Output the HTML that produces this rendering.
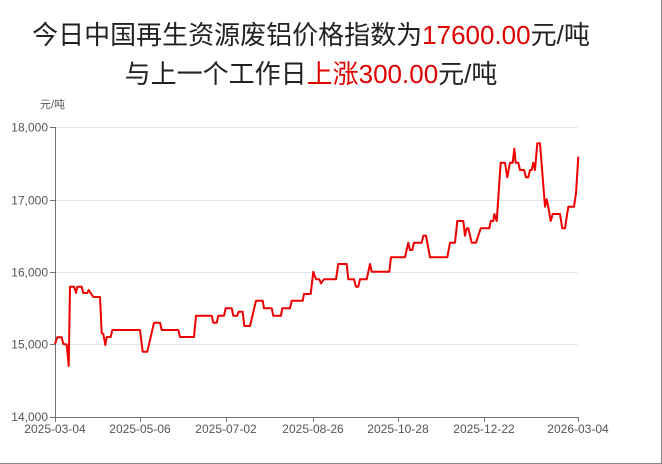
<!DOCTYPE html>
<html><head><meta charset="utf-8"><style>
html,body{margin:0;padding:0;background:#fff;}
body{width:662px;height:464px;position:relative;overflow:hidden;font-family:"Liberation Sans","Noto Sans CJK SC",sans-serif;}
.t{position:absolute;left:0;width:622px;text-align:center;font-size:26px;color:#222;white-space:nowrap;}
.r{color:#e00000;}
</style></head><body>
<div class="t" style="top:15px;">今日中国再生资源废铝价格指数为<span class="r">17600.00</span>元/吨</div>
<div class="t" style="top:54px;">与上一个工作日<span class="r">上涨300.00</span>元/吨</div>
<svg width="662" height="464" style="position:absolute;left:0;top:0" font-family="Liberation Sans, Noto Sans CJK SC, sans-serif">
<g stroke="#e0e6f1" stroke-width="1">
<line x1="55" x2="578" y1="127.5" y2="127.5"/>
<line x1="55" x2="578" y1="200.5" y2="200.5"/>
<line x1="55" x2="578" y1="272.5" y2="272.5"/>
<line x1="55" x2="578" y1="344.5" y2="344.5"/>
</g>
<g stroke="#6e7079" stroke-width="1">
<line x1="55.5" x2="55.5" y1="127" y2="417"/>
<line x1="55" x2="579" y1="417.5" y2="417.5"/>
<line x1="50" x2="55" y1="127.5" y2="127.5"/>
<line x1="50" x2="55" y1="200.5" y2="200.5"/>
<line x1="50" x2="55" y1="272.5" y2="272.5"/>
<line x1="50" x2="55" y1="344.5" y2="344.5"/>
<line x1="50" x2="55" y1="417.5" y2="417.5"/>
<line x1="55.5" x2="55.5" y1="417" y2="422"/>
<line x1="140.5" x2="140.5" y1="417" y2="422"/>
<line x1="226.5" x2="226.5" y1="417" y2="422"/>
<line x1="313.5" x2="313.5" y1="417" y2="422"/>
<line x1="398.5" x2="398.5" y1="417" y2="422"/>
<line x1="484.5" x2="484.5" y1="417" y2="422"/>
<line x1="578.5" x2="578.5" y1="417" y2="422"/>
</g>
<g font-size="12" fill="#555" text-anchor="end">
<text x="48" y="131.5">18,000</text>
<text x="48" y="204.5">17,000</text>
<text x="48" y="276.5">16,000</text>
<text x="48" y="348.5">15,000</text>
<text x="48" y="421">14,000</text>
</g>
<text x="40" y="108" font-size="11" fill="#555">元/吨</text>
<g font-size="12" fill="#555" text-anchor="middle">
<text x="55" y="433">2025-03-04</text>
<text x="140" y="433">2025-05-06</text>
<text x="226" y="433">2025-07-02</text>
<text x="313" y="433">2025-08-26</text>
<text x="398" y="433">2025-10-28</text>
<text x="484" y="433">2025-12-22</text>
<text x="578" y="433">2026-03-04</text>
</g>
<polyline fill="none" stroke="#ee0000" stroke-width="2" stroke-linejoin="round" points="55,344 57.3,337.3 61.7,337.3 63.3,344 66.7,344.5 68.7,366 70,286.7 74,286.7 76,293 77.3,286.7 81.7,286.7 83.3,293 87.3,293 88.7,290 90.7,293 93.3,297 100,297 101.7,333 103.3,334 105.3,345 106.7,337 110.7,337 112.3,330 140,330 142.7,351.7 147.3,351.7 154,322.7 160,322.7 161.7,330 178.3,330 180,337 194,337 196,315.7 211.7,315.7 213.3,322.7 216.7,322.7 218.3,315.7 224,315.7 225.7,308.3 231.7,308.3 233.3,315.7 237.3,315.7 238.7,311.7 242.7,311.7 244.3,326 250,326 256,300.7 262.7,300.7 264,308.3 271.7,308.3 273.3,315.7 281,315.7 282.3,308.3 290,308.3 291.7,300.7 302.7,300.7 304,294 310.7,294 313.3,271.7 316,279.3 319.3,279.3 321,283.3 324,279.3 336,279.3 338.3,264 346.7,264 348.3,279.3 354,279.3 356,286.7 358.3,286.7 360,279.3 366.7,279.3 370,264 371.7,271.7 389.3,271.7 391,257.3 405,257.3 408.3,242.7 410,250 412.3,250 414,242.7 421.7,242.7 423.3,235.7 426,235.7 430,257.3 447.3,257.3 450,242.7 455,242.7 457.3,221 463.3,221 465,235.7 466.7,228.3 468.3,228.3 471.7,242.7 476,242.7 478.3,235.7 480.7,228.3 489.3,228.3 490.7,221 493.3,221 494.3,214 496.7,221 500.7,162.7 505,162.7 507.3,177.3 510,162.7 512.7,162.7 514.3,148.7 515.7,162.7 518.3,162.7 520,170 524,170 526,177.3 528.3,177.3 530,170 531.7,170 533.3,162.7 535,170 537.3,143.3 540,143.3 545,206.7 546.7,199.3 548.3,206.7 550.7,221 552.7,214 560,214 562.3,228.3 565,228.3 568.3,206.7 574,206.7 576,193.3 578.3,156.7"/>
<line x1="0" x2="662" y1="463.5" y2="463.5" stroke="#888" stroke-width="1"/>
<line x1="661.5" x2="661.5" y1="0" y2="464" stroke="#888" stroke-width="1"/>
</svg>
</body></html>
